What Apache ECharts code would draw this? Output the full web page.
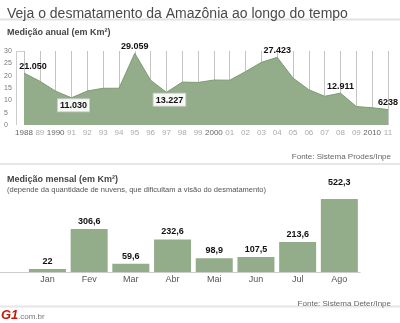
<!DOCTYPE html>
<html><head><meta charset="utf-8">
<script src="https://cdn.jsdelivr.net/npm/echarts@6/dist/echarts.min.js"></script>
<style>html,body{margin:0;padding:0;background:#fff}#c{width:400px;height:323px}</style>
</head><body><div id="c"></div>
<script>
var years = ['1988','89','1990','91','92','93','94','95','96','97','98','99','2000','01','02','03','04','05','06','07','08','09','2010','11'];
var annual = [21.05, 17.77, 13.73, 11.03, 13.786, 14.896, 14.896, 29.059, 18.161, 13.227, 17.383, 17.259, 18.226, 18.165, 21.651, 25.396, 27.423, 19.014, 14.286, 11.651, 12.911, 7.464, 7.0, 6.238];
var annualLabels = {0:'21.050', 3:'11.030', 7:'29.059', 9:'13.227', 16:'27.423', 20:'12.911', 23:'6238'};
var boxedBelow = [3, 9];
var majorYears = ['1988','1990','2000','2010'];
var months = ['Jan','Fev','Mar','Abr','Mai','Jun','Jul','Ago'];
var monthly = [22, 306.6, 59.6, 232.6, 98.9, 107.5, 213.6, 522.3];
var yTicks = [0, 5, 10, 15, 20, 25, 30];

var F = 'Liberation Sans, Arial, sans-serif';
var chart = echarts.init(document.getElementById('c'), null, {renderer:'canvas'});

var labelShift = {0: 9, 3: 2, 9: 3};
var annualData = annual.map(function(v, i){
  var d = {value: v};
  if (annualLabels[i] !== undefined) {
    var below = boxedBelow.indexOf(i) >= 0;
    d.label = {show: true, formatter: annualLabels[i], position: below ? 'bottom' : 'top',
      distance: below ? 1 : 2,
      backgroundColor: below ? 'rgba(255,255,255,0.9)' : 'transparent',
      borderColor: below ? '#ccc' : 'transparent', borderWidth: below ? 1 : 0,
      padding: below ? [2,2,1,2] : 0};
  }
  return d;
});
var monthlyData = monthly.map(function(v, i){
  var d = {value: v};
  if (months[i] === 'Ago') d.label = {distance: 12};
  return d;
});

chart.setOption({
  animation: false,
  textStyle: {fontFamily: F},
  title: [
    {text: 'Veja o desmatamento da Amazônia ao longo do tempo', left: 2, top: 2,
     textStyle: {fontFamily: F, fontSize: 14, fontWeight: 'normal', color: '#4a4a4a'}},
    {text: 'Medição anual (em Km²)', left: 2, top: 23,
     textStyle: {fontFamily: F, fontSize: 9, fontWeight: 'bold', color: '#444'}},
    {text: 'Fonte: Sistema Prodes/Inpe', right: 4, top: 148,
     textStyle: {fontFamily: F, fontSize: 8, fontWeight: 'normal', color: '#666'}},
    {text: 'Medição mensal (em Km²)', left: 2, top: 170,
     textStyle: {fontFamily: F, fontSize: 9, fontWeight: 'bold', color: '#444'}},
    {text: '(depende da quantidade de nuvens, que dificultam a visão do desmatamento)', left: 2, top: 181,
     textStyle: {fontFamily: F, fontSize: 7.5, fontWeight: 'normal', color: '#555'}},
    {text: 'Fonte: Sistema Deter/Inpe', right: 4, top: 295,
     textStyle: {fontFamily: F, fontSize: 8, fontWeight: 'normal', color: '#666'}}
  ],
  graphic: [
    {type: 'line', shape: {x1: 0, y1: 19.5, x2: 400, y2: 19.5}, style: {stroke: '#e2e2e2', lineWidth: 2}},
    {type: 'line', shape: {x1: 0, y1: 164, x2: 400, y2: 164}, style: {stroke: '#e6e6e6', lineWidth: 2}},
    {type: 'line', shape: {x1: 0, y1: 306.5, x2: 400, y2: 306.5}, style: {stroke: '#e6e6e6', lineWidth: 2}},
    {type: 'line', shape: {x1: 0, y1: 272.5, x2: 27, y2: 272.5}, style: {stroke: '#ccc', lineWidth: 1}},
    {type: 'line', shape: {x1: 16.5, y1: 51, x2: 16.5, y2: 125}, style: {stroke: '#ccc', lineWidth: 1}},
    {type: 'line', shape: {x1: 16.5, y1: 51.5, x2: 24, y2: 51.5}, style: {stroke: '#ccc', lineWidth: 1}},
    {type: 'text', left: 1, top: 309, style: {text: 'G1', font: 'bold italic 13px ' + F, fill: '#c4170c'}},
    {type: 'text', left: 18, top: 313, style: {text: '.com.br', font: '8px ' + F, fill: '#777'}}
  ],
  grid: [
    {left: 24, right: 12, top: 51, height: 74, containLabel: false},
    {left: 26.6, right: 39.8, top: 188, height: 84, containLabel: false}
  ],
  xAxis: [
    {type: 'category', gridIndex: 0, data: years, boundaryGap: false, z: 3,
     axisLine: {show: false}, axisTick: {show: false},
     axisLabel: {fontSize: 8, fontFamily: F, margin: 4, interval: 0,
       color: function(v){ return majorYears.indexOf(v) >= 0 ? '#666' : '#aaa'; }},
     splitLine: {show: true, interval: 0, lineStyle: {color: 'rgba(60,60,60,0.3)', width: 1}}},
    {type: 'category', gridIndex: 1, data: months,
     axisLine: {show: true, lineStyle: {color: '#ccc'}}, axisTick: {show: false},
     axisLabel: {fontSize: 9, fontFamily: F, color: '#555', margin: 3}}
  ],
  yAxis: [
    {type: 'value', gridIndex: 0, min: 0, max: 30, interval: 5,
     axisLine: {show: false}, axisTick: {show: false}, splitLine: {show: false},
     axisLabel: {fontSize: 7, fontFamily: F, color: '#777', margin: 20, align: 'left'}},
    {type: 'value', gridIndex: 1, min: 0, max: 600, show: false, splitLine: {show: false}}
  ],
  series: [
    {type: 'line', xAxisIndex: 0, yAxisIndex: 0, data: annualData, symbol: 'circle', symbolSize: 1,
     showSymbol: true, showAllSymbol: true, itemStyle: {color: 'rgba(0,0,0,0)', borderWidth: 0}, z: 4,
     lineStyle: {color: '#7f9a72', width: 1}, areaStyle: {color: '#93ad8a', opacity: 1},
     labelLayout: function(p){ return {hideOverlap: false, dx: labelShift[p.dataIndex] || 0}; },
     label: {show: false, fontSize: 9, fontWeight: 'bold', color: '#111', fontFamily: F}},
    {type: 'bar', xAxisIndex: 1, yAxisIndex: 1, data: monthlyData, barWidth: 37,
     itemStyle: {color: '#93ad8a'},
     label: {show: true, position: 'top', distance: 3, fontSize: 9, fontWeight: 'bold', color: '#111', fontFamily: F,
       formatter: function(p){ return String(p.value).replace('.', ','); }}}
  ]
});
</script></body></html>
